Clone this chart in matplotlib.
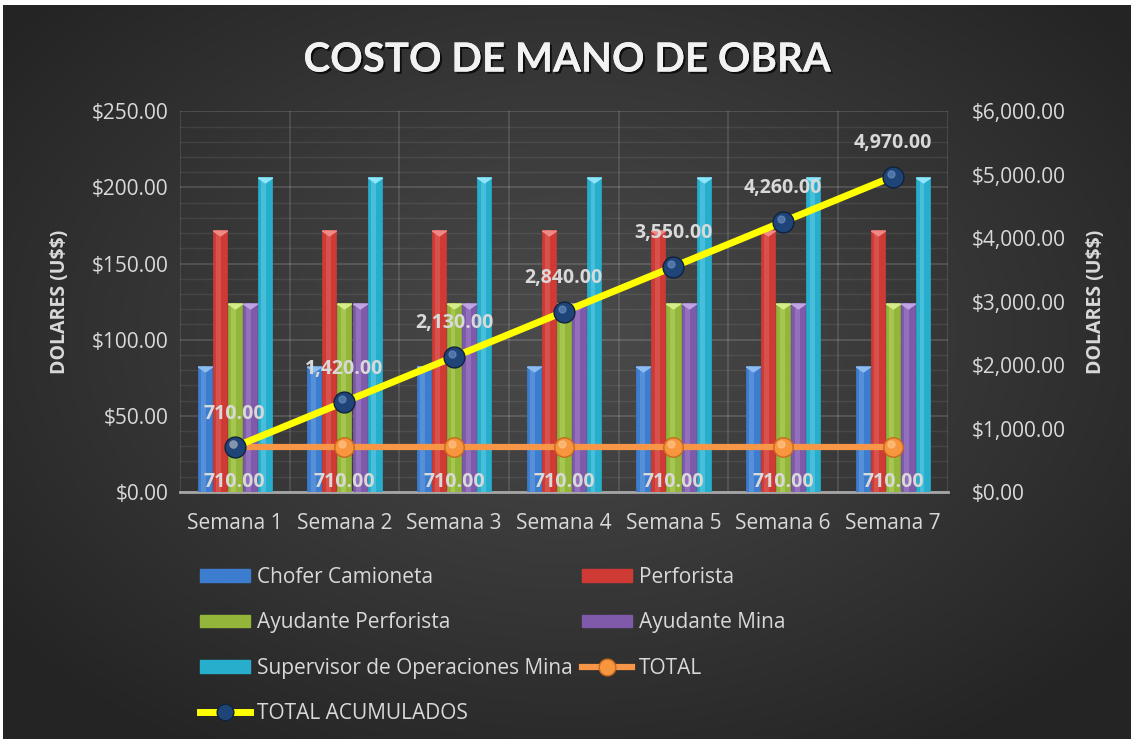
import numpy as np
import matplotlib
matplotlib.use("Agg")
import matplotlib.pyplot as plt
import matplotlib.patheffects as pe
from matplotlib.patches import Patch
from matplotlib.lines import Line2D
from matplotlib.ticker import FuncFormatter, MultipleLocator

plt.rcParams['font.family'] = ['Open Sans', 'DejaVu Sans']
plt.rcParams['text.parse_math'] = False

weeks = ['Semana 1', 'Semana 2', 'Semana 3', 'Semana 4', 'Semana 5', 'Semana 6', 'Semana 7']
chofer = [83, 83, 83, 83, 83, 83, 83]
perforista = [172, 172, 172, 172, 172, 172, 172]
ayud_perf = [124, 124, 124, 124, 124, 124, 124]
ayud_mina = [124, 124, 124, 124, 124, 124, 124]
supervisor = [207, 207, 207, 207, 207, 207, 207]
total = [710, 710, 710, 710, 710, 710, 710]
total_acum = [710, 1420, 2130, 2840, 3550, 4260, 4970]

series = [
    ('Chofer Camioneta', chofer, '#3c7dd0', '#8fbcf0'),
    ('Perforista', perforista, '#cf3a35', '#f08a86'),
    ('Ayudante Perforista', ayud_perf, '#92b53a', '#d6ee8a'),
    ('Ayudante Mina', ayud_mina, '#7f5aab', '#c0a4e4'),
    ('Supervisor de Operaciones Mina', supervisor, '#28aecd', '#8fe6fb'),
]
txt = '#d9d9d9'
fs = 15

fig = plt.figure(figsize=(11.34, 7.42), dpi=100)
fig.patch.set_facecolor('white')

# radial gradient background
bg = fig.add_axes([0.003, 0.004, 0.994, 0.989], zorder=-10)
gx, gy = np.meshgrid(np.linspace(-1, 1, 400), np.linspace(-1, 1, 300))
r = np.sqrt((gx / 1.0) ** 2 + ((gy + 0.1) / 1.05) ** 2)
shade = np.clip(0.295 - 0.12 * r, 0.145, 0.30)
bg.imshow(np.dstack([shade, shade, shade]), aspect='auto', extent=[0, 1, 0, 1])
bg.axis('off')

ax = fig.add_axes([0.1587, 0.337, 0.677, 0.513])
ax.set_facecolor('none')
ax2 = ax.twinx()

# flattened cap marker for the bar tops
cap = [(-1, 0.35), (1, 0.35), (0, -0.35), (-1, 0.35)]

x = np.arange(len(weeks))
step = 0.138
bw = 0.128
for i, (name, vals, col, hi) in enumerate(series):
    xs = x + (i - 2) * step
    ax.bar(xs, vals, width=bw, color=col, edgecolor=col, linewidth=0.5, zorder=3)
    ax.bar(xs - bw * 0.08, vals, width=bw * 0.35, color=hi, alpha=0.3, linewidth=0, zorder=4)
    ax.plot(xs, np.array(vals) - 2.2, linestyle='none', marker=cap, markersize=10, color=hi,
            zorder=5)

ax.set_xlim(-0.5, len(weeks) - 0.5)
ax.set_ylim(0, 250)
ax.yaxis.set_major_locator(MultipleLocator(50))
ax.yaxis.set_minor_locator(MultipleLocator(10))
ax.yaxis.set_major_formatter(FuncFormatter(lambda v, p: f'${v:,.2f}'))
ax.set_xticks(x)
ax.set_xticklabels(weeks)
ax.set_xticks(np.arange(-0.5, len(weeks), 0.5), minor=True)
ax.grid(which='major', axis='y', color='white', alpha=0.16, linewidth=1.2, zorder=0)
ax.grid(which='minor', axis='y', color='white', alpha=0.08, linewidth=1.0, zorder=0)
ax.grid(which='minor', axis='x', color='white', alpha=0.14, linewidth=1.2, zorder=0)
ax.set_axisbelow(True)
for s in ['top', 'left', 'right']:
    ax.spines[s].set_visible(False)
ax.spines['bottom'].set_color('#a6a6a6')
ax.spines['bottom'].set_linewidth(2)
ax.tick_params(axis='both', which='both', length=0, colors=txt, labelsize=fs)
ax.tick_params(axis='x', pad=15)
ax.tick_params(axis='y', pad=8)
ax.set_ylabel('DOLARES (U$$)', color=txt, fontsize=14, fontweight='bold', labelpad=16)

ax2.set_ylim(0, 6000)
ax2.yaxis.set_major_locator(MultipleLocator(1000))
ax2.yaxis.set_major_formatter(FuncFormatter(lambda v, p: f'${v:,.2f}'))
for s in ax2.spines.values():
    s.set_visible(False)
ax2.tick_params(axis='y', length=0, colors=txt, labelsize=fs, pad=17)
ax2.set_ylabel('DOLARES (U$$)', color=txt, fontsize=14, fontweight='bold', labelpad=15)

ax2.plot(x, total, color='#f79646', linewidth=4.5, zorder=6, solid_capstyle='round',
         marker='o', markersize=14, markerfacecolor='#f7963f', markeredgecolor='#c96a1c', markeredgewidth=1)
ax2.plot(x, total_acum, color='#ffff00', linewidth=5, zorder=7, solid_capstyle='round',
         marker='o', markersize=15, markerfacecolor='#1f4477', markeredgecolor='#10223d', markeredgewidth=1)
# marker highlights
ax2.plot(x - 0.02, np.array(total) + 40, linestyle='none', marker='o', markersize=5,
         color='#ffc98f', alpha=0.6, zorder=8)
ax2.plot(x - 0.02, np.array(total_acum) + 40, linestyle='none', marker='o', markersize=5,
         color='#6f93c4', alpha=0.6, zorder=8)

for xi, v in zip(x, total):
    ax2.annotate(f'{v:,.2f}', (xi, v), xytext=(0, -25), textcoords='offset points',
                 ha='center', va='center', color=txt, fontsize=14, fontweight='bold', zorder=9)
for xi, v in zip(x, total_acum):
    ax2.annotate(f'{v:,.2f}', (xi, v), xytext=(0, 24), textcoords='offset points',
                 ha='center', va='center', color=txt, fontsize=14, fontweight='bold', zorder=9)

fig.text(0.5, 0.919, 'COSTO DE MANO DE OBRA', ha='center', va='center', color='#f2f2f2',
         fontsize=29, fontweight='bold', family=['Lato', 'DejaVu Sans'],
         path_effects=[pe.withSimplePatchShadow(offset=(1.5, -1.5), shadow_rgbFace='black', alpha=0.7), pe.Normal()])

# legend: two columns drawn as two legends
h = {name: Patch(facecolor=col, edgecolor=col) for name, vals, col, hi in series}
h_tot = Line2D([0], [0], color='#f79646', linewidth=4.5, marker='o', markersize=12,
               markerfacecolor='#f7963f', markeredgecolor='#c96a1c')
h_acum = Line2D([0], [0], color='#ffff00', linewidth=5, marker='o', markersize=12,
                markerfacecolor='#1f4477', markeredgecolor='#10223d')
left_labels = ['Chofer Camioneta', 'Ayudante Perforista', 'Supervisor de Operaciones Mina']
right_labels = ['Perforista', 'Ayudante Mina']
leg_kw = dict(loc='upper left', frameon=False, fontsize=fs, labelcolor=txt, handlelength=2.4,
              handleheight=0.55, handletextpad=0.35, labelspacing=1.17, borderpad=0, borderaxespad=0)
fig.legend([h[n] for n in left_labels] + [h_acum], left_labels + ['TOTAL ACUMULADOS'],
           bbox_to_anchor=(200 / 1134, 1 - 567 / 742), **leg_kw)
fig.legend([h[n] for n in right_labels] + [h_tot], right_labels + ['TOTAL'],
           bbox_to_anchor=(582 / 1134, 1 - 567 / 742), **leg_kw)

fig.savefig('out.png', dpi=100, facecolor=fig.get_facecolor())
